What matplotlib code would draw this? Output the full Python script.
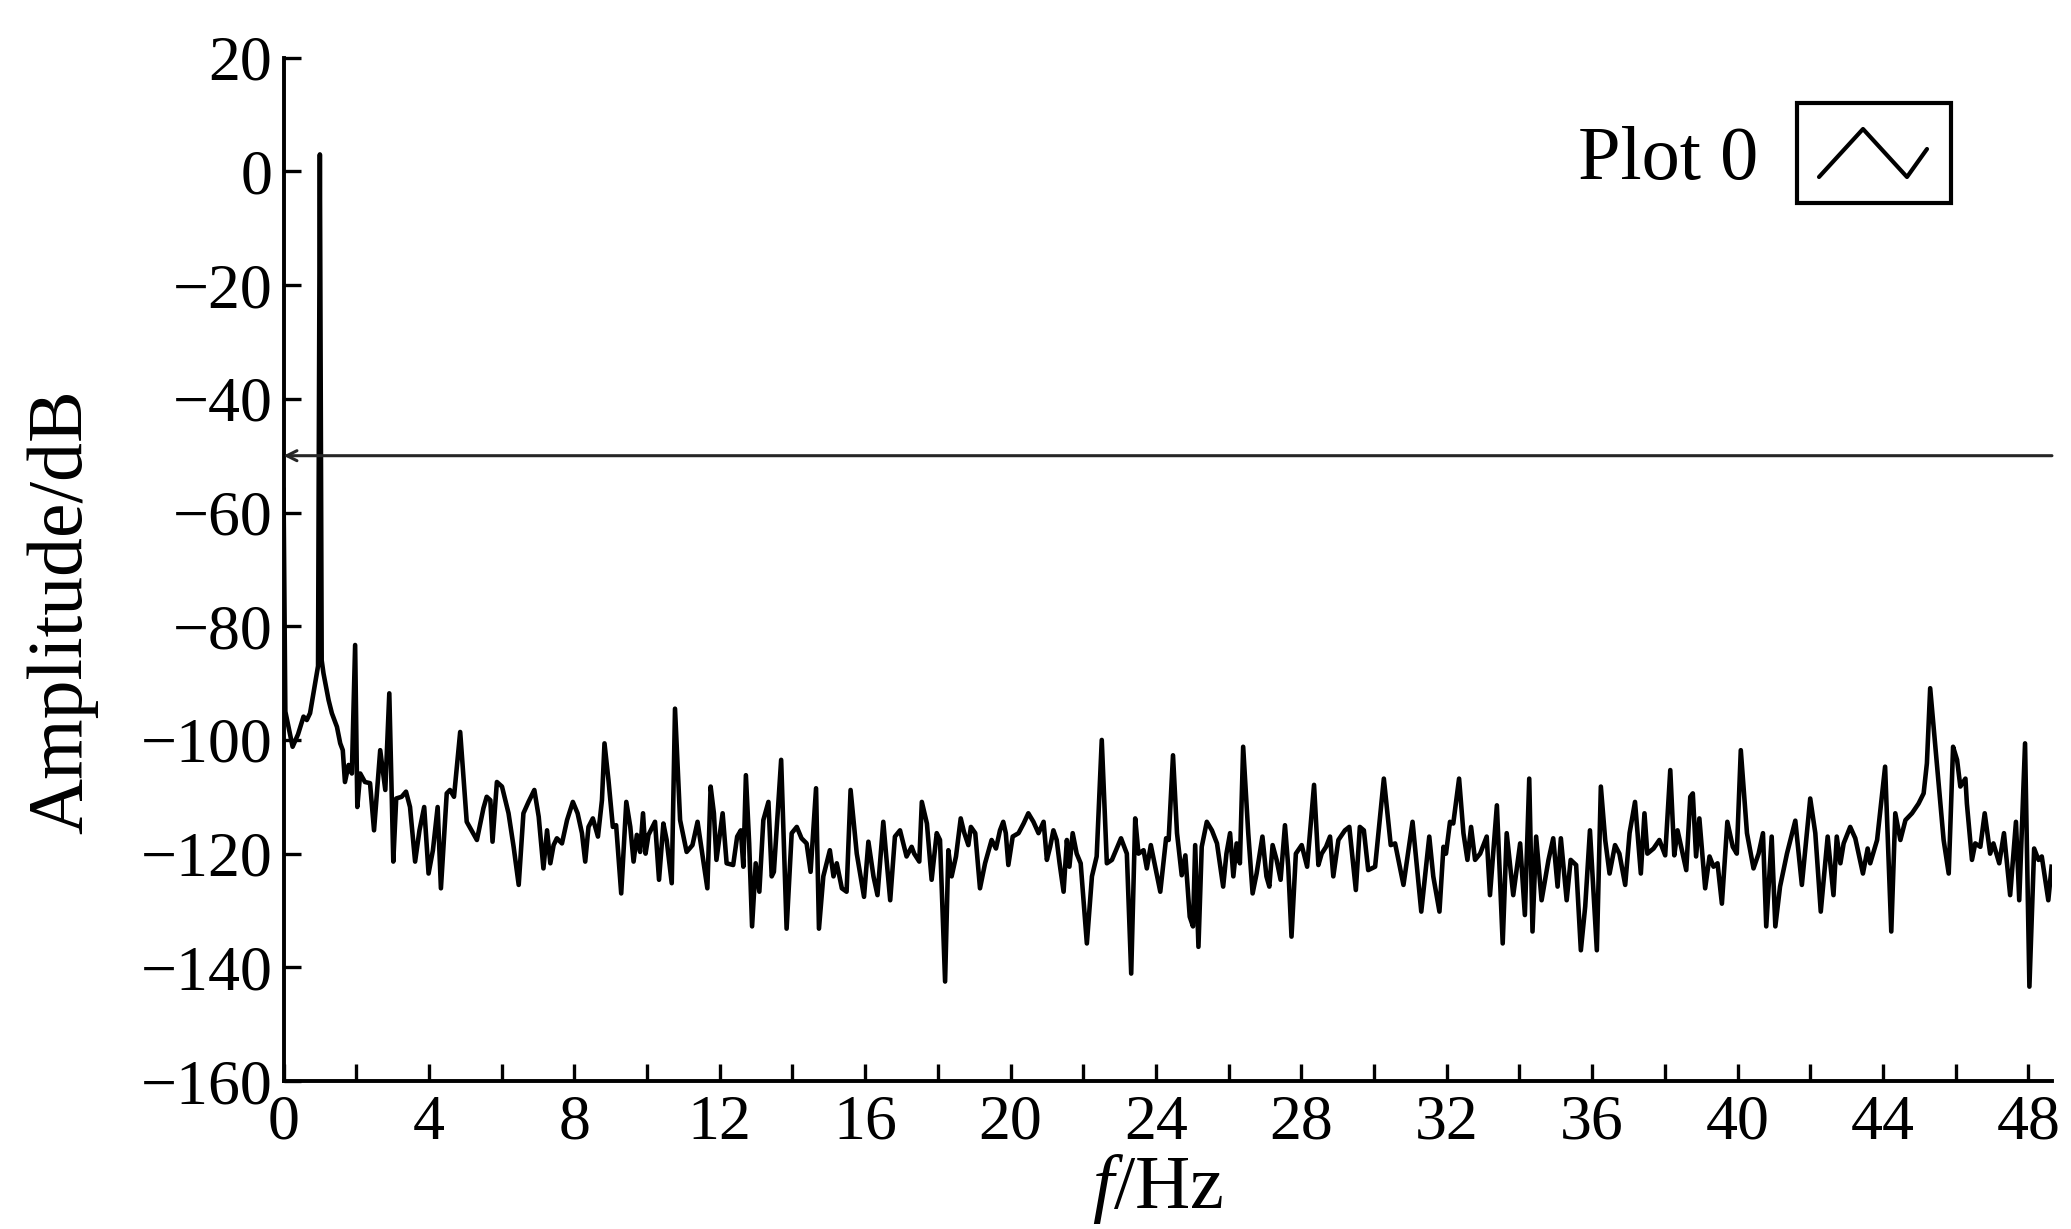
import matplotlib
matplotlib.use("Agg")
import matplotlib.pyplot as plt
from matplotlib.patches import Rectangle
from matplotlib.lines import Line2D

plt.rcParams['font.family'] = ['Liberation Serif', 'DejaVu Serif']
plt.rcParams['mathtext.fontset'] = 'custom'
plt.rcParams['mathtext.rm'] = 'Liberation Serif'
plt.rcParams['mathtext.it'] = 'Liberation Serif:italic'

# spectrum (Hz, dB)
freq = [0.00, 0.05, 0.25, 0.40, 0.55, 0.64, 0.73, 0.87, 0.95, 1.00, 1.05, 1.10, 1.24, 1.33,
        1.47, 1.56, 1.63, 1.69, 1.79, 1.88, 1.97, 2.03, 2.11, 2.24, 2.38, 2.49, 2.66, 2.80,
        2.91, 3.02, 3.10, 3.25, 3.37, 3.48, 3.62, 3.74, 3.87, 3.99, 4.11, 4.24, 4.33, 4.49,
        4.58, 4.69, 4.86, 5.04, 5.32, 5.50, 5.59, 5.69, 5.75, 5.87, 6.01, 6.19, 6.33, 6.47,
        6.60, 6.74, 6.90, 7.02, 7.15, 7.25, 7.34, 7.43, 7.52, 7.66, 7.80, 7.96, 8.09, 8.21,
        8.30, 8.39, 8.51, 8.65, 8.76, 8.83, 8.94, 9.06, 9.15, 9.29, 9.43, 9.54, 9.63, 9.72,
        9.81, 9.89, 9.96, 10.04, 10.22, 10.33, 10.45, 10.54, 10.68, 10.77, 10.91, 11.09,
        11.25, 11.39, 11.53, 11.66, 11.75, 11.84, 11.91, 12.08, 12.19, 12.37, 12.48, 12.58,
        12.65, 12.72, 12.81, 12.89, 12.99, 13.09, 13.20, 13.34, 13.43, 13.49, 13.69, 13.84,
        13.98, 14.12, 14.25, 14.39, 14.50, 14.65, 14.73, 14.85, 15.03, 15.13, 15.22, 15.36,
        15.49, 15.60, 15.77, 15.97, 16.09, 16.23, 16.34, 16.50, 16.59, 16.69, 16.82, 16.96,
        17.14, 17.28, 17.35, 17.49, 17.56, 17.70, 17.83, 17.97, 18.06, 18.20, 18.29, 18.38,
        18.50, 18.63, 18.72, 18.84, 18.91, 19.03, 19.16, 19.30, 19.48, 19.60, 19.71, 19.80,
        19.87, 19.94, 20.06, 20.22, 20.36, 20.49, 20.63, 20.77, 20.91, 21.00, 21.09, 21.18,
        21.27, 21.35, 21.46, 21.55, 21.62, 21.71, 21.82, 21.93, 22.10, 22.24, 22.37, 22.51,
        22.65, 22.79, 23.04, 23.20, 23.32, 23.43, 23.52, 23.66, 23.75, 23.86, 23.98, 24.12,
        24.28, 24.35, 24.47, 24.58, 24.71, 24.81, 24.93, 25.02, 25.08, 25.17, 25.26, 25.40,
        25.54, 25.68, 25.85, 25.94, 26.04, 26.13, 26.22, 26.31, 26.40, 26.54, 26.66, 26.77,
        26.93, 27.04, 27.12, 27.21, 27.32, 27.43, 27.55, 27.64, 27.73, 27.85, 28.01, 28.16,
        28.35, 28.47, 28.56, 28.68, 28.79, 28.88, 29.02, 29.20, 29.32, 29.50, 29.61, 29.72,
        29.84, 30.03, 30.27, 30.46, 30.58, 30.81, 31.06, 31.30, 31.52, 31.63, 31.80, 31.91,
        31.98, 32.09, 32.18, 32.34, 32.46, 32.57, 32.67, 32.78, 32.92, 33.10, 33.19, 33.38,
        33.54, 33.65, 33.83, 34.02, 34.15, 34.27, 34.36, 34.46, 34.61, 34.80, 34.93, 35.05,
        35.14, 35.30, 35.41, 35.56, 35.69, 35.81, 35.94, 36.13, 36.24, 36.36, 36.48, 36.63,
        36.75, 36.91, 37.03, 37.18, 37.34, 37.44, 37.52, 37.69, 37.85, 38.01, 38.15, 38.26,
        38.35, 38.59, 38.70, 38.77, 38.86, 38.95, 39.11, 39.23, 39.34, 39.45, 39.57, 39.72,
        39.87, 39.98, 40.09, 40.26, 40.44, 40.58, 40.70, 40.79, 40.94, 41.04, 41.17, 41.36,
        41.59, 41.77, 42.00, 42.14, 42.29, 42.48, 42.64, 42.73, 42.83, 42.92, 43.10, 43.24,
        43.45, 43.58, 43.65, 43.84, 44.06, 44.23, 44.34, 44.48, 44.62, 44.80, 44.98, 45.12,
        45.21, 45.30, 45.49, 45.67, 45.81, 45.93, 46.04, 46.13, 46.27, 46.31, 46.45, 46.54,
        46.68, 46.80, 46.95, 47.04, 47.20, 47.33, 47.50, 47.66, 47.75, 47.91, 48.03, 48.16,
        48.28, 48.37, 48.55, 48.64]
amp = [-56, -95, -101.2, -99, -95.9, -96.5, -95.3, -90, -87, 3, -86, -88.3, -93, -95.3,
       -97.7, -100.6, -101.8, -107.4, -104.4, -105.9, -83.3, -111.8, -105.9, -107.4, -107.6, -115.9, -101.8, -108.8,
       -91.8, -121.4, -110.3, -110, -109.1, -111.8, -121.4, -115.9, -111.8, -123.5, -119.4, -111.8, -126.1, -109.4,
       -108.8, -110, -98.6, -114.4, -117.6, -112, -110, -110.6, -117.9, -107.4, -108.2, -112.9, -118.8, -125.5,
       -112.9, -110.9, -108.8, -113.5, -122.6, -115.9, -121.7, -118.5, -117.3, -118.2, -114.1, -110.9, -112.9, -116.4,
       -121.4, -115.3, -113.8, -117, -110.6, -100.6, -107.1, -115.3, -115, -127, -110.9, -115.3, -121.4, -116.7,
       -119.7, -112.9, -120, -116.7, -114.4, -124.6, -114.7, -117.6, -125.2, -94.5, -114.1, -119.7,
       -118.5, -114.4, -120.5, -126.1, -108.2, -112.9, -121.1, -112.9, -121.7, -122, -117, -115.9,
       -122.3, -106.2, -118.2, -132.8, -121.7, -126.7, -114.1, -110.9, -124, -123.2, -103.5, -133.2,
       -116.4, -115.3, -117.3, -118.2, -123.2, -108.5, -133.2, -124, -119.4, -124, -121.7, -126.1,
       -126.7, -108.8, -120, -127.6, -117.9, -124, -127.3, -114.4, -121.1, -128.2, -117, -115.9,
       -120.5, -118.8, -120, -121.4, -110.9, -114.7, -124.6, -116.4, -117.6, -142.5, -119.4, -124,
       -120.5, -113.8, -116.2, -118.5, -115.3, -116.4, -126.1, -121.7, -117.6, -119.1, -115.9, -114.4,
       -116.4, -122, -117, -116.4, -114.7, -112.9, -114.4, -116.4, -114.4, -121.1, -118.8, -115.9,
       -117.6, -121.7, -126.7, -117.6, -122.3, -116.4, -120, -121.7, -135.8, -124, -120.5, -100,
       -121.7, -121.1, -117.3, -120, -141.1, -113.8, -120, -119.4, -122.6, -118.5, -122.3, -126.7,
       -117.3, -117.6, -102.7, -116.4, -123.8, -120.3, -131.1, -132.8, -118.5, -136.4, -118.8, -114.4,
       -115.9, -118.2, -125.8, -120, -116.4, -124, -118.2, -121.7, -101.2, -116.4, -127, -123.5,
       -117, -124, -125.8, -118.5, -121.1, -124.6, -115, -122.3, -134.6, -120, -118.5, -122.3,
       -107.9, -122, -120, -118.8, -117, -124, -117.6, -115.9, -115.3, -126.4, -115.3, -115.9,
       -122.9, -122.3, -106.8, -118.5, -118.2, -125.5, -114.4, -130.2, -117, -124, -130.2, -118.8,
       -120, -114.4, -114.7, -106.8, -116.4, -121.1, -115.3, -121.1, -120, -117, -127.3, -111.5,
       -135.8, -116.4, -127.3, -118.2, -130.8, -106.8, -133.7, -117, -128.2, -121.1, -117.3, -125.8,
       -117.3, -128.2, -121.1, -122, -137, -129.3, -115.9, -137, -108.2, -117.6, -123.5, -118.5,
       -120, -125.5, -116.4, -110.9, -123.5, -112.9, -120, -119.1, -117.6, -120.3, -105.3, -120.3,
       -115.9, -122.9, -110, -109.4, -120.5, -113.8, -126.1, -120.5, -122.3, -121.7, -128.8, -114.4,
       -118.8, -120, -101.8, -116.4, -122.6, -120, -116.4, -132.8, -117, -132.8, -125.8, -120,
       -114.2, -125.5, -110.3, -116.4, -130.2, -117, -127.3, -117, -121.7, -118.2, -115.3, -117.3,
       -123.5, -119.1, -121.7, -117.6, -104.7, -133.7, -112.9, -117.6, -114.1, -112.9, -111.2, -109.4,
       -104.1, -90.9, -104.7, -117.6, -123.5, -101.2, -103.5, -108.2, -106.8, -111.2, -121.1, -118.2,
       -118.8, -112.9, -120, -118.2, -121.7, -116.4, -127.3, -114.4, -128.2, -100.6, -143.4, -119.1,
       -121.1, -120.5, -128.2, -122.3]

threshold = -50
x_ticks = list(range(0, 49, 4))
y_ticks = list(range(-160, 21, 20))

fig = plt.figure(figsize=(20.71, 12.29), dpi=100)
ax = fig.add_axes([0.1369, 0.1204, 0.9908 - 0.1369, 0.953 - 0.1204])

ax.plot(freq, amp, color='black', lw=3.3, solid_joinstyle='round')
ax.annotate('', xy=(0, threshold), xytext=(48.65, threshold),
            arrowprops=dict(arrowstyle='->', lw=2.2, color='#262626',
                            shrinkA=0, shrinkB=0, mutation_scale=18))

ax.set_xlim(0, 48.65)
ax.set_ylim(-160, 20)
ax.set_xticks(x_ticks)
ax.set_xticks(list(range(2, 49, 4)), minor=True)
ax.set_yticks(y_ticks)

for s in ['top', 'right']:
    ax.spines[s].set_visible(False)
for s in ['left', 'bottom']:
    ax.spines[s].set_linewidth(2.8)

ax.tick_params(axis='both', which='both', direction='in', width=2.4, labelsize=46)
ax.tick_params(axis='both', which='major', length=12)
ax.tick_params(axis='x', which='minor', length=12)
ax.tick_params(axis='y', pad=8)
ax.tick_params(axis='x', pad=10)

ax.set_xlabel('$f$/Hz', fontsize=55, va='center')
ax.xaxis.set_label_coords(0.4945, -0.1056)
ax.set_ylabel('Amplitude/dB', fontsize=56, va='center')
ax.yaxis.set_label_coords(-0.1252, 0.459)

# legend drawn like the instrument panel
fig.text(1758 / 2071, 1 - 179 / 1229, 'Plot 0', fontsize=55, ha='right', va='baseline')
fig.add_artist(Rectangle((1797 / 2071, 1 - 203 / 1229), 154 / 2071, 100 / 1229,
                         transform=fig.transFigure, fill=False, lw=3, ec='black'))
fig.add_artist(Line2D([1819 / 2071, 1863 / 2071, 1907 / 2071, 1927 / 2071],
                      [1 - 177 / 1229, 1 - 129 / 1229, 1 - 177 / 1229, 1 - 149 / 1229],
                      transform=fig.transFigure, color='black', lw=3,
                      solid_capstyle='round'))

fig.savefig('out.png', dpi=100)
